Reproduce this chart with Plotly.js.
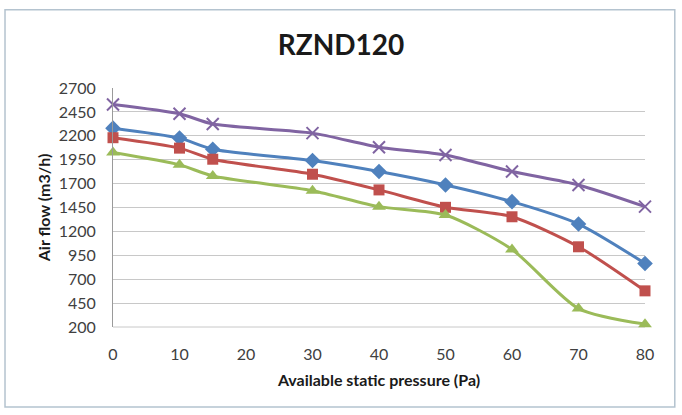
<!DOCTYPE html>
<html>
<head>
<meta charset="utf-8">
<script src="https://cdn.plot.ly/plotly-3.0.1.min.js"></script>
<style>
html,body{margin:0;padding:0;background:#fff;}
#chart{width:682px;height:415px;}
</style>
</head>
<body>
<div id="chart"></div>
<script>
const pressure = [0, 10, 15, 30, 40, 50, 60, 70, 80];
const seriesBlue   = [2280, 2176, 2060, 1941, 1826, 1686, 1511, 1277, 865];
const seriesRed    = [2180, 2071, 1955, 1798, 1634, 1452, 1353, 1039, 578];
const seriesGreen  = [2025, 1896, 1780, 1626, 1459, 1371, 1011, 393, 230];
const seriesPurple = [2528, 2430, 2323, 2228, 2081, 2000, 1826, 1686, 1459];
const yTicks = [200, 450, 700, 950, 1200, 1450, 1700, 1950, 2200, 2450, 2700];
const xTicks = [0, 10, 20, 30, 40, 50, 60, 70, 80];

const FONT = 'Lato, "Open Sans", sans-serif';

function mk(y, color, symbol, size, lineW) {
  return {
    x: pressure, y: y, type: 'scatter', mode: 'lines+markers',
    line: {color: color, width: 3, shape: 'spline', smoothing: 0.7},
    marker: {symbol: symbol, size: size, color: color,
             line: {color: color, width: lineW}},
    cliponaxis: false, hoverinfo: 'skip'
  };
}

const traces = [
  mk(seriesPurple, '#8064A2', 'x-thin', 12, 2),
  mk(seriesBlue, '#4F81BD', 'diamond', 12, 0),
  mk(seriesRed, '#C0504D', 'square', 11, 0),
  mk(seriesGreen, '#9BBB59', 'triangle-up', 12, 0)
];

const layout = {
  width: 682, height: 415,
  margin: {l: 113, r: 37, t: 88, b: 88, pad: 0},
  paper_bgcolor: '#ffffff', plot_bgcolor: '#ffffff',
  showlegend: false,
  font: {family: FONT, color: '#404040', size: 16},
  title: {text: '<b>RZND120</b>', x: 0.5, xanchor: 'center', y: 0.892, yanchor: 'middle',
          font: {family: FONT, size: 28, color: '#1a1a1a'}},
  xaxis: {
    range: [0, 80], tickvals: xTicks, ticktext: xTicks.map(String),
    showgrid: false, zeroline: false, showline: false, ticks: '',
    ticklabelstandoff: 16,
    tickfont: {family: FONT, size: 16, color: '#404040'},
    title: {text: '<b>Available static pressure (Pa)</b>', standoff: 12,
            font: {family: FONT, size: 16, color: '#1a1a1a'}},
    automargin: false
  },
  yaxis: {
    range: [200, 2700], tickvals: yTicks, ticktext: yTicks.map(String),
    showgrid: true, gridcolor: '#c8c8c8', gridwidth: 1,
    zeroline: false, showline: true, linecolor: '#9a9a9a', linewidth: 1, ticks: '',
    ticklabelstandoff: 13,
    tickfont: {family: FONT, size: 16, color: '#404040'},
    title: {text: '<b>Air flow (m3/h)</b>', standoff: 4,
            font: {family: FONT, size: 16, color: '#1a1a1a'}},
    automargin: false
  },
  shapes: [
    {type: 'rect', xref: 'paper', yref: 'paper', layer: 'below',
     x0: -0.203, x1: 1.056, y0: -0.335, y1: 1.327,
     line: {color: '#b4c3cf', width: 1.5}, fillcolor: 'rgba(0,0,0,0)'},
    {type: 'line', xref: 'paper', yref: 'paper', layer: 'below',
     x0: 0, x1: 1, y0: 0, y1: 0, line: {color: '#c8c8c8', width: 1}}
  ]
};

Plotly.newPlot('chart', traces, layout, {staticPlot: true, displayModeBar: false});
</script>
</body>
</html>
